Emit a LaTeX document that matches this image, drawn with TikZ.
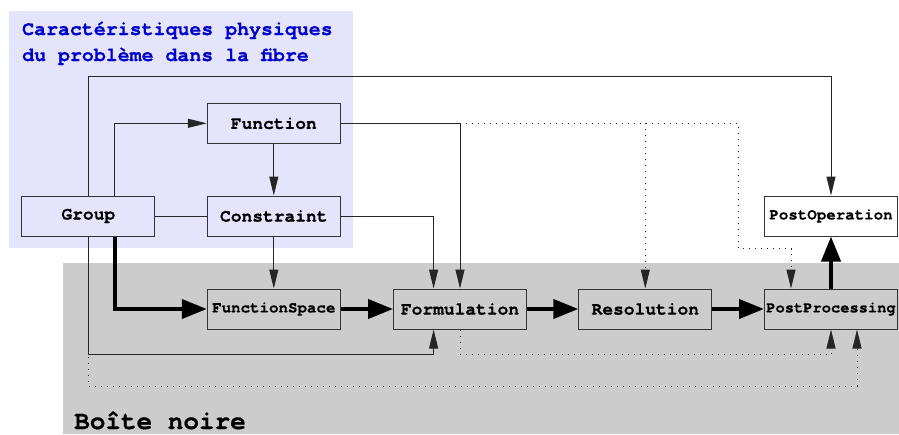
\documentclass[tikz,border=0pt]{standalone}
\usepackage{fontspec}
\newfontfamily\monofont{TeX Gyre Cursor}[BoldFeatures={FakeBold=0.6}]
\usetikzlibrary{arrows.meta,calc}
\definecolor{lav}{RGB}{228,228,252}
\definecolor{bgray}{RGB}{204,204,204}
\definecolor{tblue}{RGB}{0,0,204}
\begin{document}
\begin{tikzpicture}[x=1pt,y=-1pt,
  box/.style={draw=black!80, line width=1pt, minimum height=40pt, minimum width=133pt, inner sep=0pt, font=\monofont\bfseries\fontsize{17.9}{20}\selectfont},
  sbox/.style={box, font=\monofont\bfseries\fontsize{15.8}{18}\selectfont},
  ln/.style={draw=black!85, line width=1pt},
  arr/.style={ln, -{Triangle[length=19pt,width=9pt]}},
  dotln/.style={ln, dash pattern=on 1pt off 5pt},
  darr/.style={dotln, -{Triangle[length=19pt,width=9pt]}},
  bigarr/.style={draw=black, line width=4pt, -{Triangle[length=25pt,width=19pt]}},
  lbl/.style={inner sep=0pt, anchor=base west, font=\monofont\bfseries}
]
\useasboundingbox (0,0) rectangle (899,434);
% regions
\fill[lav] (9.3,11) rectangle (353,248);
\fill[bgray] (63,263) rectangle (899,434);
\node[lbl, text=tblue, font=\monofont\bfseries\fontsize{19.9}{24}\selectfont] (title1) at (22,35) {Caractéristiques physiques};
\node[lbl, text=tblue, font=\monofont\bfseries\fontsize{19.9}{24}\selectfont] (title2) at (22,61) {du problème dans la fibre};
\node[lbl, font=\monofont\bfseries\fontsize{26}{30}\selectfont] (bn) at (74,429) {Boîte noire};
% boxes
\node[box] (Group) at (88.3,216) {Group};
\node[box] (Function) at (273.8,123.3) {Function};
\node[box] (Constraint) at (273.8,216) {Constraint};
\node[sbox] (FunctionSpace) at (273.8,309) {FunctionSpace};
\node[box] (Formulation) at (460,309) {Formulation};
\node[box] (Resolution) at (645.3,309) {Resolution};
\node[sbox, font=\monofont\bfseries\fontsize{15.4}{18}\selectfont] (PostProcessing) at (831,309) {PostProcessing};
\node[sbox] (PostOperation) at (831,216) {PostOperation};
% helper coordinates
\coordinate (ytop) at (0,76.7);
\coordinate (ydot) at (0,248.7);
\coordinate (xdot) at (738,0);
\coordinate (ybot) at (0,354);
\coordinate (ylow) at (0,386);
\coordinate (PPin1) at ([xshift=26pt]PostProcessing.south);
\coordinate (PPin2) at ([xshift=-40pt]PostProcessing.north);
\coordinate (FormS) at ([xshift=-26.4pt]Formulation.south);
\coordinate (FormN) at ([xshift=-26.4pt]Formulation.north);
\coordinate (GrpN) at ([xshift=26.4pt]Group.north);
\coordinate (GrpS) at ([xshift=26.4pt]Group.south);
% dotted connectors
\draw[darr] (Group.south) |- (PPin1 |- ylow) -- (PPin1);
\draw[darr] (Formulation.south) |- (PostProcessing.south |- ybot) -- (PostProcessing.south);
\draw[darr] (Formulation.north |- Function.east) -| (xdot |- ydot) -| (PPin2);
\draw[darr] (Resolution.north |- Function.east) -- (Resolution.north);
% thin connectors
\draw[arr] (Group.north) |- (PostOperation.north |- ytop) -- (PostOperation.north);
\draw[arr] (GrpN) |- (Function.west);
\draw[arr] (Function.south) -- (Constraint.north);
\draw[ln] (Group.east) -- (Constraint.west);
\draw[arr] (Function.east) -| (Formulation.north);
\draw[arr] (Constraint.east) -| (FormN);
\draw[arr] (Constraint.south) -- (FunctionSpace.north);
\draw[arr] (Group.south) |- (FormS |- ybot) -- (FormS);
% thick connectors
\draw[bigarr] (GrpS) |- (FunctionSpace.west);
\draw[bigarr] (FunctionSpace.east) -- (Formulation.west);
\draw[bigarr] (Formulation.east) -- (Resolution.west);
\draw[bigarr] (Resolution.east) -- (PostProcessing.west);
\draw[bigarr] (PostProcessing.north) -- (PostOperation.south);
\end{tikzpicture}
\end{document}
